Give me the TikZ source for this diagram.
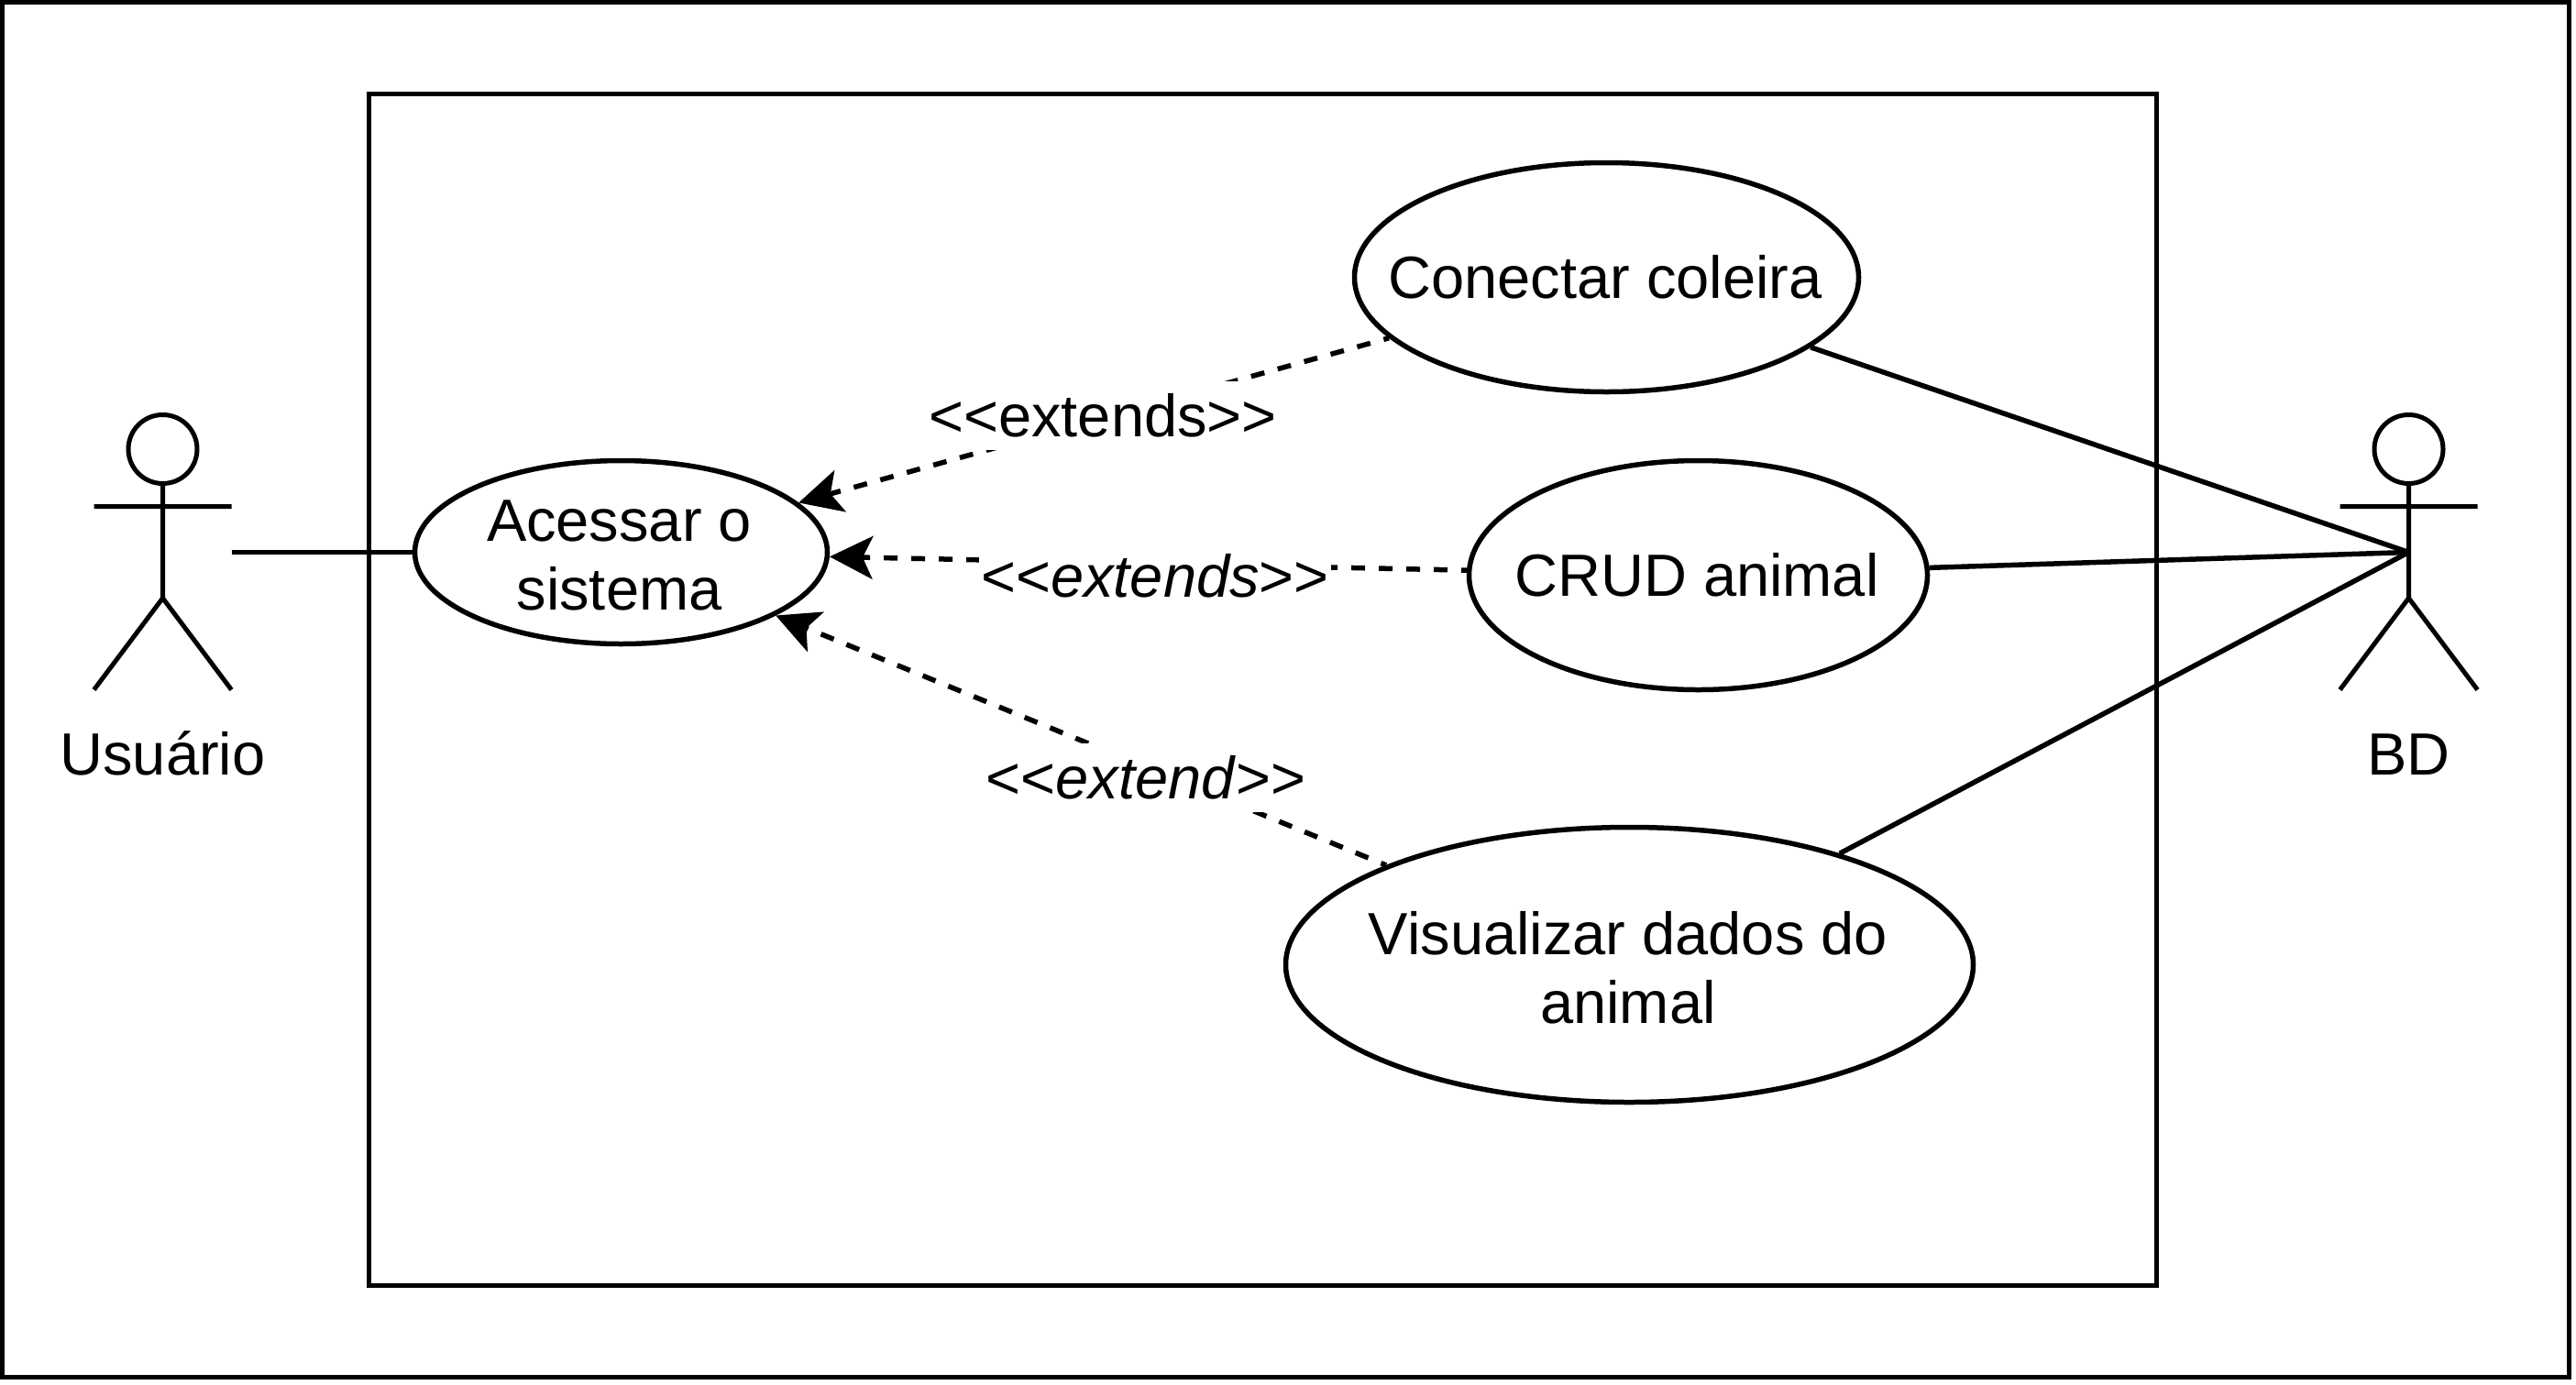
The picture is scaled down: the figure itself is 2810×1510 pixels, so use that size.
\documentclass[tikz,border=0pt]{standalone}
\usepackage{fontspec}
\setmainfont{Liberation Sans}
\usetikzlibrary{shapes.geometric,arrows.meta}
\tikzset{
  every node/.style={font=\fontsize{32.5}{37.5}\selectfont},
  frame/.style={draw=black,line width=2.5pt},
  usecase/.style={ellipse,draw=black,line width=2.75pt,fill=white,inner sep=0pt},
  assoc/.style={draw=black,line width=2.75pt},
  ext/.style={draw=black,line width=2.75pt,dash pattern=on 7.5pt off 7.5pt,dash phase=4.5pt,
    -{Stealth[length=23.5pt,width=23.5pt,inset=5.5pt]}},
  actorhead/.style={circle,draw=black,line width=2.5pt,inner sep=0pt,minimum size=37.5pt},
  actorline/.style={draw=black,line width=2.5pt},
  extlabel/.style={fill=white,inner xsep=1pt,inner ysep=0pt,text height=30pt,text depth=7.5pt},
  actorname/.style={inner sep=0pt,anchor=base}
}
\begin{document}
\begin{tikzpicture}[x=0.5pt,y=-0.5pt]
\useasboundingbox (0,0) rectangle (2810,1510);
\fill[white] (0,0) rectangle (2810,1510);
\draw[frame] (2.5,2.5) rectangle (2802.5,1502.5);
\draw[frame] (402.5,102.5) rectangle (2352.5,1402.5);

% use cases
\node[usecase,minimum width=225pt,minimum height=100pt,label={[align=center,xshift=-1pt,yshift=-1.5pt]center:Acessar o\\sistema}] (acessar) at (677.5,602.5) {};
\node[usecase,minimum width=275pt,minimum height=125pt,label={[xshift=-0.75pt]center:Conectar coleira}] (conectar) at (1752.5,302.5) {};
\node[usecase,minimum width=250pt,minimum height=125pt,label={[xshift=-0.75pt]center:CRUD animal}] (crud) at (1852.5,627.5) {};
\node[usecase,minimum width=375pt,minimum height=150pt,label={[align=center,xshift=-0.75pt,yshift=-1.5pt]center:Visualizar dados do\\animal}] (visualizar) at (1777.5,1052.5) {};

% left actor
\node[actorhead] (uhead) at (177.5,490) {};
\coordinate (uhip) at (177.5,652.5);
\coordinate (uarml) at (102.5,552.5);
\coordinate (uarmr) at (252.5,552.5);
\coordinate (ufootl) at (102.5,752.5);
\coordinate (ufootr) at (252.5,752.5);
\coordinate (uport) at (252.5,602.5);
\draw[actorline] (uhead.south) -- (uhip) (uarml) -- (uarmr) (ufootl) -- (uhip) -- (ufootr);
\node[actorname] (usuario) at (177.5,845) {Usuário};

% right actor
\node[actorhead] (bhead) at (2627.5,490) {};
\coordinate (bhip) at (2627.5,652.5);
\coordinate (barml) at (2552.5,552.5);
\coordinate (barmr) at (2702.5,552.5);
\coordinate (bfootl) at (2552.5,752.5);
\coordinate (bfootr) at (2702.5,752.5);
\coordinate (bport) at (2627.5,602.5);
\draw[actorline] (bhead.south) -- (bhip) (barml) -- (barmr) (bfootl) -- (bhip) -- (bfootr);
\node[actorname] (bd) at (2627.5,845) {BD};

% associations
\draw[assoc] (uport) -- (acessar);
\draw[assoc] (conectar) -- (bport);
\draw[assoc] (crud) -- (bport);
\draw[assoc] (visualizar) -- (bport);

% extends
\draw[ext] (conectar) -- (acessar);
\draw[ext] (crud) -- (acessar);
\draw[ext] (visualizar) -- (acessar);

\node[extlabel] (l1) at (1203,453.5) {<{}<extends>{}>};
\node[extlabel] (l2) at (1260,629) {<{}<\textit{extends}>{}>};
\node[extlabel] (l3) at (1250,848.5) {<{}<\textit{extend}>{}>};
\end{tikzpicture}
\end{document}
